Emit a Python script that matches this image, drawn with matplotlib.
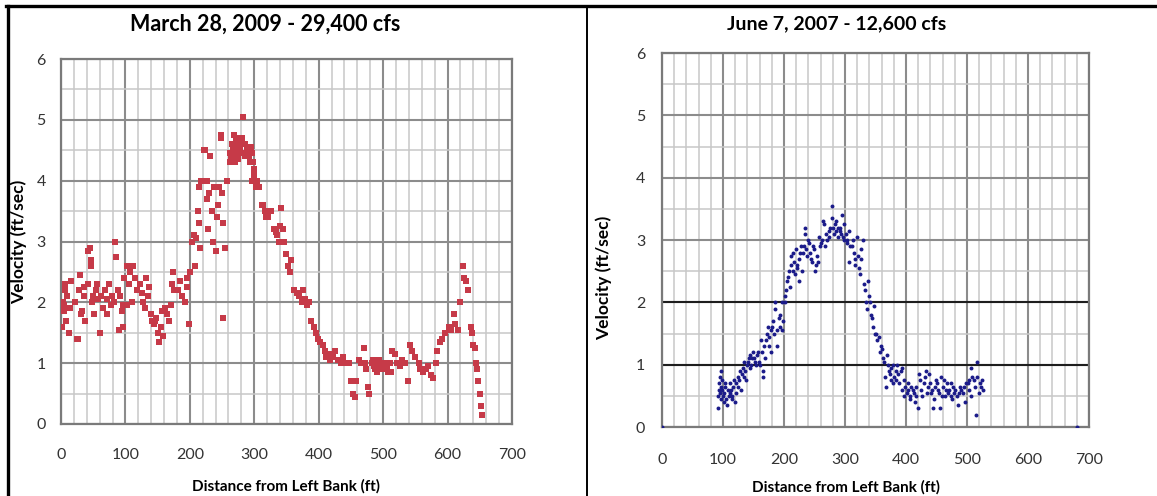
import matplotlib.pyplot as plt
from matplotlib.lines import Line2D

plt.rcParams["font.family"] = ["Lato", "DejaVu Sans"]

# March 28, 2009 - red squares
MAR_X = [
    1, 2, 3, 4, 5, 6, 7, 8, 10, 12, 14, 16,
    22, 25, 27, 28, 30, 31, 33, 35, 36, 38,
    42, 42, 45, 46, 47, 48, 50, 52, 55, 56, 58, 60,
    62, 66, 68, 71, 72, 75, 77, 79,
    82, 84, 86, 88, 90, 92, 94, 96, 97, 98,
    102, 103, 105, 107, 110, 112, 115, 118,
    122, 126, 128, 130, 132, 135, 137, 139,
    142, 145, 146, 148, 150, 152, 155, 157, 158,
    162, 165, 168, 170, 173, 174, 176,
    182, 185, 188, 192, 195, 196, 198, 200,
    203, 206, 208, 210, 212, 214, 215, 216, 218,
    222, 224, 226, 227, 228, 230, 232, 234, 236, 238, 240,
    242, 244, 246, 248, 249, 250, 252, 252, 255, 258,
    262, 263, 264, 266, 267, 268, 270, 270, 271, 272, 274, 275, 277, 278, 279,
    281, 283, 285, 286, 288, 290, 292, 294, 295, 296, 297, 298, 299, 300,
    302, 305, 308, 312, 314, 316, 318,
    322, 326, 330, 333, 336, 338, 340,
    342, 344, 346, 350, 353, 355, 357,
    362, 366, 370, 374, 376, 378,
    382, 385, 388, 392, 396, 399,
    402, 406, 410, 412, 416, 418,
    422, 426, 430, 434, 437,
    442, 447, 450, 453, 456, 458,
    462, 466, 470, 472, 474, 476, 478,
    482, 484, 486, 488, 490, 492, 494, 496, 498,
    500, 502, 504, 506, 508, 510, 512, 514, 518,
    522, 526, 530, 534, 538,
    542, 545, 550, 555, 558,
    562, 566, 570, 574, 578,
    582, 584, 588, 592, 596,
    602, 606, 610, 612, 616, 620,
    624, 626, 628, 632, 636, 638, 640,
    642, 644, 646, 648, 650, 652, 654,
]
MAR_Y = [
    1.6, 1.9, 2.0, 1.95, 1.85, 2.2, 2.3, 1.7, 2.1, 1.5, 1.9, 2.35,
    2.0, 1.4, 1.4, 2.2, 2.45, 1.8, 1.85, 2.1, 2.25, 1.7,
    2.85, 2.3, 2.9, 2.7, 2.6, 2.0, 2.1, 1.8, 2.2, 2.3, 2.05, 1.5,
    2.1, 1.9, 2.2, 1.8, 2.05, 2.3, 1.95, 2.1,
    2.0, 3.0, 2.75, 2.2, 1.55, 2.1, 1.85, 1.6, 1.95, 2.4,
    1.95, 2.6, 2.3, 2.5, 2.0, 2.6, 2.4, 2.2,
    2.3, 2.15, 2.0, 1.9, 2.4, 2.1, 2.25, 1.8,
    1.7, 1.65, 1.7, 1.75, 1.5, 1.35, 1.6, 1.85, 1.45,
    1.9, 1.8, 1.7, 1.95, 2.3, 2.5, 2.2,
    2.2, 2.35, 2.1, 2.0, 2.25, 2.4, 1.65, 2.5,
    3.0, 3.1, 2.6, 3.05, 3.5, 3.3, 3.9, 2.9, 4.0,
    4.5, 4.5, 3.7, 4.0, 3.2, 3.8, 4.4, 3.5, 3.0, 3.9, 2.85,
    3.4, 3.6, 3.9, 4.7, 4.75, 3.8, 1.75, 3.3, 2.9, 4.0,
    4.3, 4.45, 4.4, 4.6, 4.55, 4.75, 4.5, 4.3, 4.65, 4.4, 4.35, 4.7, 4.6, 4.5, 4.45,
    4.7, 5.05, 4.6, 4.4, 4.5, 4.55, 4.4, 4.3, 4.55, 4.0, 4.45, 4.3, 4.1, 4.2,
    3.9, 4.0, 3.9, 3.6, 3.6, 3.5, 3.4,
    3.4, 3.5, 3.2, 3.15, 3.1, 3.0, 3.25,
    3.55, 3.2, 3.0, 2.8, 2.6, 2.5, 2.7,
    2.2, 2.15, 2.1, 2.0, 2.2, 2.05,
    1.95, 2.0, 1.7, 1.6, 1.5, 1.4,
    1.35, 1.3, 1.2, 1.1, 1.15, 1.05,
    1.1, 1.2, 1.05, 1.0, 1.1,
    1.0, 1.0, 0.7, 0.5, 0.45, 0.7,
    1.05, 1.0, 1.25, 1.0, 0.9, 0.6, 0.5,
    1.0, 1.05, 0.95, 0.9, 0.85, 1.0, 1.05, 0.95, 1.0,
    0.9, 0.9, 1.0, 0.95, 0.85, 1.0, 0.85, 1.2, 1.15,
    1.0, 0.95, 1.05, 1.0, 0.7,
    1.3, 1.2, 1.1, 1.0, 0.9,
    0.85, 0.9, 0.95, 0.8, 0.75,
    1.0, 1.2, 1.35, 1.4, 1.5,
    1.6, 1.55, 1.8, 1.65, 1.55, 2.0,
    2.6, 2.4, 2.35, 2.2, 1.6, 1.5, 1.3,
    1.25, 1.0, 0.9, 0.7, 0.5, 0.3, 0.15,
]

# June 7, 2007 - blue dots
JUN_X = [
    0,
    91, 92, 93, 94, 95, 95, 96, 97, 97, 98, 99,
    100, 101, 102, 103, 104, 105, 106, 108, 109,
    111, 112, 113, 114, 115, 117, 118, 119,
    121, 122, 124, 125, 126, 128, 129,
    131, 132, 134, 135, 136, 138, 139,
    141, 142, 144, 145, 146, 148, 149,
    151, 153, 154, 156, 157, 159,
    161, 162, 164, 165, 166, 168, 169,
    171, 172, 174, 175, 176, 178, 179,
    181, 182, 184, 185, 186, 188, 189,
    191, 193, 194, 196, 197, 199,
    201, 202, 204, 205, 206, 208, 209,
    211, 212, 214, 215, 216, 218, 219,
    221, 222, 224, 225, 226, 228, 229,
    231, 232, 234, 235, 236, 238, 239,
    241, 243, 244, 246, 247, 249,
    251, 253, 254, 256, 257, 259,
    261, 263, 264, 266, 267, 269,
    271, 273, 274, 276, 278, 279,
    281, 282, 284, 285, 286, 288, 289,
    291, 292, 294, 295, 296, 298, 299,
    301, 303, 304, 306, 307, 309,
    311, 313, 314, 316, 317, 319,
    321, 323, 324, 326, 327, 329,
    331, 333, 334, 336, 337, 339,
    341, 343, 344, 346, 347, 349,
    351, 353, 355, 357, 359,
    361, 362, 364, 366, 367, 369,
    371, 372, 374, 375, 376, 378, 379,
    381, 383, 384, 386, 387, 389,
    391, 393, 394, 396, 397, 399,
    401, 403, 404, 406, 407, 409,
    411, 413, 414, 416, 417, 419,
    421, 423, 425, 427, 429,
    431, 433, 434, 436, 437, 439,
    441, 443, 444, 446, 447, 449,
    451, 453, 454, 456, 457, 459,
    461, 463, 464, 466, 467, 469,
    471, 473, 474, 476, 477, 479,
    481, 483, 485, 487, 489,
    491, 493, 495, 497, 499,
    501, 503, 504, 506, 507, 509,
    511, 513, 514, 516, 517, 519,
    521, 523, 525, 527,
    680,
]
JUN_Y = [
    0,
    0.3, 0.5, 0.6, 0.7, 0.8, 0.55, 0.65, 0.9, 0.45, 0.75, 0.6,
    0.5, 0.4, 0.55, 0.65, 0.7, 0.45, 0.35, 0.6, 0.5,
    0.55, 0.7, 0.6, 0.45, 0.5, 0.65, 0.75, 0.4,
    0.55, 0.7, 0.8, 0.65, 0.75, 0.9, 0.6,
    0.85, 0.95, 0.8, 1.05, 0.9, 0.75, 1.0,
    1.05, 1.1, 0.95, 1.15, 1.0, 1.1, 1.2,
    1.1, 1.05, 1.0, 1.15, 1.2, 1.05,
    1.0, 1.4, 1.2, 0.9, 0.8, 1.3, 1.1,
    1.4, 1.5, 1.6, 1.3, 1.45, 1.2, 1.55,
    1.6, 1.7, 1.5, 1.9, 2.0, 1.3, 1.55,
    1.75, 1.6, 1.8, 1.55, 2.0, 1.7,
    2.0, 2.1, 2.2, 2.35, 2.4, 2.5, 2.25,
    2.6, 2.75, 2.8, 2.5, 2.65, 2.45, 2.85,
    2.6, 2.55, 2.7, 2.35, 2.8, 2.9, 2.5,
    2.8, 2.9, 3.1, 3.2, 2.85, 2.75, 3.0,
    2.95, 2.8, 2.7, 2.65, 2.9, 2.85,
    2.5, 2.6, 2.75, 2.65, 3.05, 2.9,
    2.95, 3.0, 3.3, 3.25, 2.9, 3.1,
    3.0, 3.15, 3.05, 3.2, 3.55, 3.35,
    3.2, 3.1, 3.25, 3.15, 3.3, 3.05, 3.2,
    3.15, 3.2, 3.1, 3.4, 3.05, 3.25, 3.0,
    3.1, 3.0, 2.95, 2.65, 3.15, 2.9,
    2.9, 3.0, 2.8, 2.7, 2.6, 3.05,
    2.75, 2.55, 2.45, 2.7, 2.85, 3.0,
    2.3, 2.2, 2.0, 1.9, 2.35, 2.1,
    2.0, 1.8, 1.75, 1.6, 1.95, 1.5,
    1.5, 1.4, 1.45, 1.2, 1.3,
    1.25, 1.1, 1.05, 0.8, 0.65, 1.15,
    1.0, 0.9, 0.85, 0.95, 0.75, 1.0, 0.7,
    0.8, 0.9, 0.75, 1.0, 0.85, 0.7,
    0.9, 0.95, 0.6, 0.5, 0.75, 0.65,
    0.55, 0.6, 0.7, 0.5, 0.45, 0.65,
    0.6, 0.55, 0.4, 0.65, 0.5, 0.3,
    0.85, 0.75, 0.6, 0.5, 0.7,
    0.8, 0.9, 0.55, 0.65, 0.85, 0.7,
    0.55, 0.6, 0.3, 0.45, 0.65, 0.75,
    0.7, 0.6, 0.55, 0.3, 0.8, 0.5,
    0.65, 0.75, 0.5, 0.6, 0.7, 0.55,
    0.6, 0.5, 0.7, 0.45, 0.65, 0.55,
    0.6, 0.5, 0.35, 0.55, 0.65,
    0.6, 0.55, 0.65, 0.4, 0.7,
    0.7, 0.6, 0.75, 0.5, 0.95, 0.8,
    0.75, 0.65, 0.2, 0.8, 1.05, 0.55,
    0.7, 0.65, 0.75, 0.6,
    0,
]

X_TICKS = [0, 100, 200, 300, 400, 500, 600, 700]
Y_TICKS = [0, 1, 2, 3, 4, 5, 6]

TITLES = ["March 28, 2009 - 29,400 cfs", "June 7, 2007 - 12,600 cfs"]
XLABEL = "Distance from Left Bank (ft)"
YLABEL = "Velocity (ft/sec)"


def style_axes(ax, xpad, ypad):
    ax.set_xlim(0, 700)
    ax.set_ylim(0, 6)
    ax.set_xticks(X_TICKS)
    ax.set_yticks(Y_TICKS)
    ax.set_xticks(range(0, 701, 20), minor=True)
    ax.set_yticks([i * 0.5 for i in range(13)], minor=True)
    ax.grid(which="major", color="#8c8c8c", linewidth=1.5)
    ax.grid(which="minor", color="#c8c8c8", linewidth=1.1)
    ax.set_axisbelow(True)
    ax.tick_params(which="both", length=0)
    ax.tick_params(axis="x", pad=xpad, labelsize=11.5, labelcolor="#333333")
    ax.tick_params(axis="y", pad=ypad, labelsize=11.5, labelcolor="#333333")
    for sp in ax.spines.values():
        sp.set_color("#7a7a7a")
        sp.set_linewidth(1.6)


fig = plt.figure(figsize=(11.57, 4.96), dpi=100)

# left panel
ax1 = fig.add_axes([0.0527, 0.1452, 0.3898, 0.7358])
style_axes(ax1, 17, 11)
ax1.scatter(MAR_X, MAR_Y, marker="s", s=16, color="#c63a48", linewidths=0, zorder=3)
ax1.set_xlabel(XLABEL, fontsize=11, fontweight="bold")
ax1.set_ylabel(YLABEL, fontsize=12.5, fontweight="bold")
ax1.xaxis.set_label_coords(0.50, -0.150)
ax1.yaxis.set_label_coords(-0.075, 0.50)

# right panel
ax2 = fig.add_axes([0.5722, 0.139, 0.369, 0.754])
style_axes(ax2, 19, 12)
ax2.axhline(1, color="#1e1e1e", linewidth=1.5, zorder=1)
ax2.axhline(2, color="#1e1e1e", linewidth=1.5, zorder=1)
ax2.scatter(JUN_X, JUN_Y, marker="o", s=8, color="#1b1b8a", linewidths=0, zorder=3)
ax2.set_xlabel(XLABEL, fontsize=11, fontweight="bold")
ax2.set_ylabel(YLABEL, fontsize=12.5, fontweight="bold")
ax2.xaxis.set_label_coords(0.43, -0.143)
ax2.yaxis.set_label_coords(-0.117, 0.40)

fig.text(265 / 1157, 1 - 24 / 496, TITLES[0], ha="center", va="center",
         fontsize=15.5, fontweight="bold")
fig.text(837 / 1157, 1 - 24 / 496, TITLES[1], ha="center", va="center",
         fontsize=14, fontweight="bold")

# page frame lines
fig.add_artist(Line2D([6 / 1157, 1], [1 - 6 / 496, 1 - 6 / 496],
                      color="black", linewidth=2.4, transform=fig.transFigure))
fig.add_artist(Line2D([8 / 1157, 8 / 1157], [0, 1 - 6 / 496],
                      color="black", linewidth=2.4, transform=fig.transFigure))
fig.add_artist(Line2D([587 / 1157, 587 / 1157], [0, 1 - 6 / 496],
                      color="black", linewidth=1.4, transform=fig.transFigure))

fig.savefig("out.png", dpi=100)
